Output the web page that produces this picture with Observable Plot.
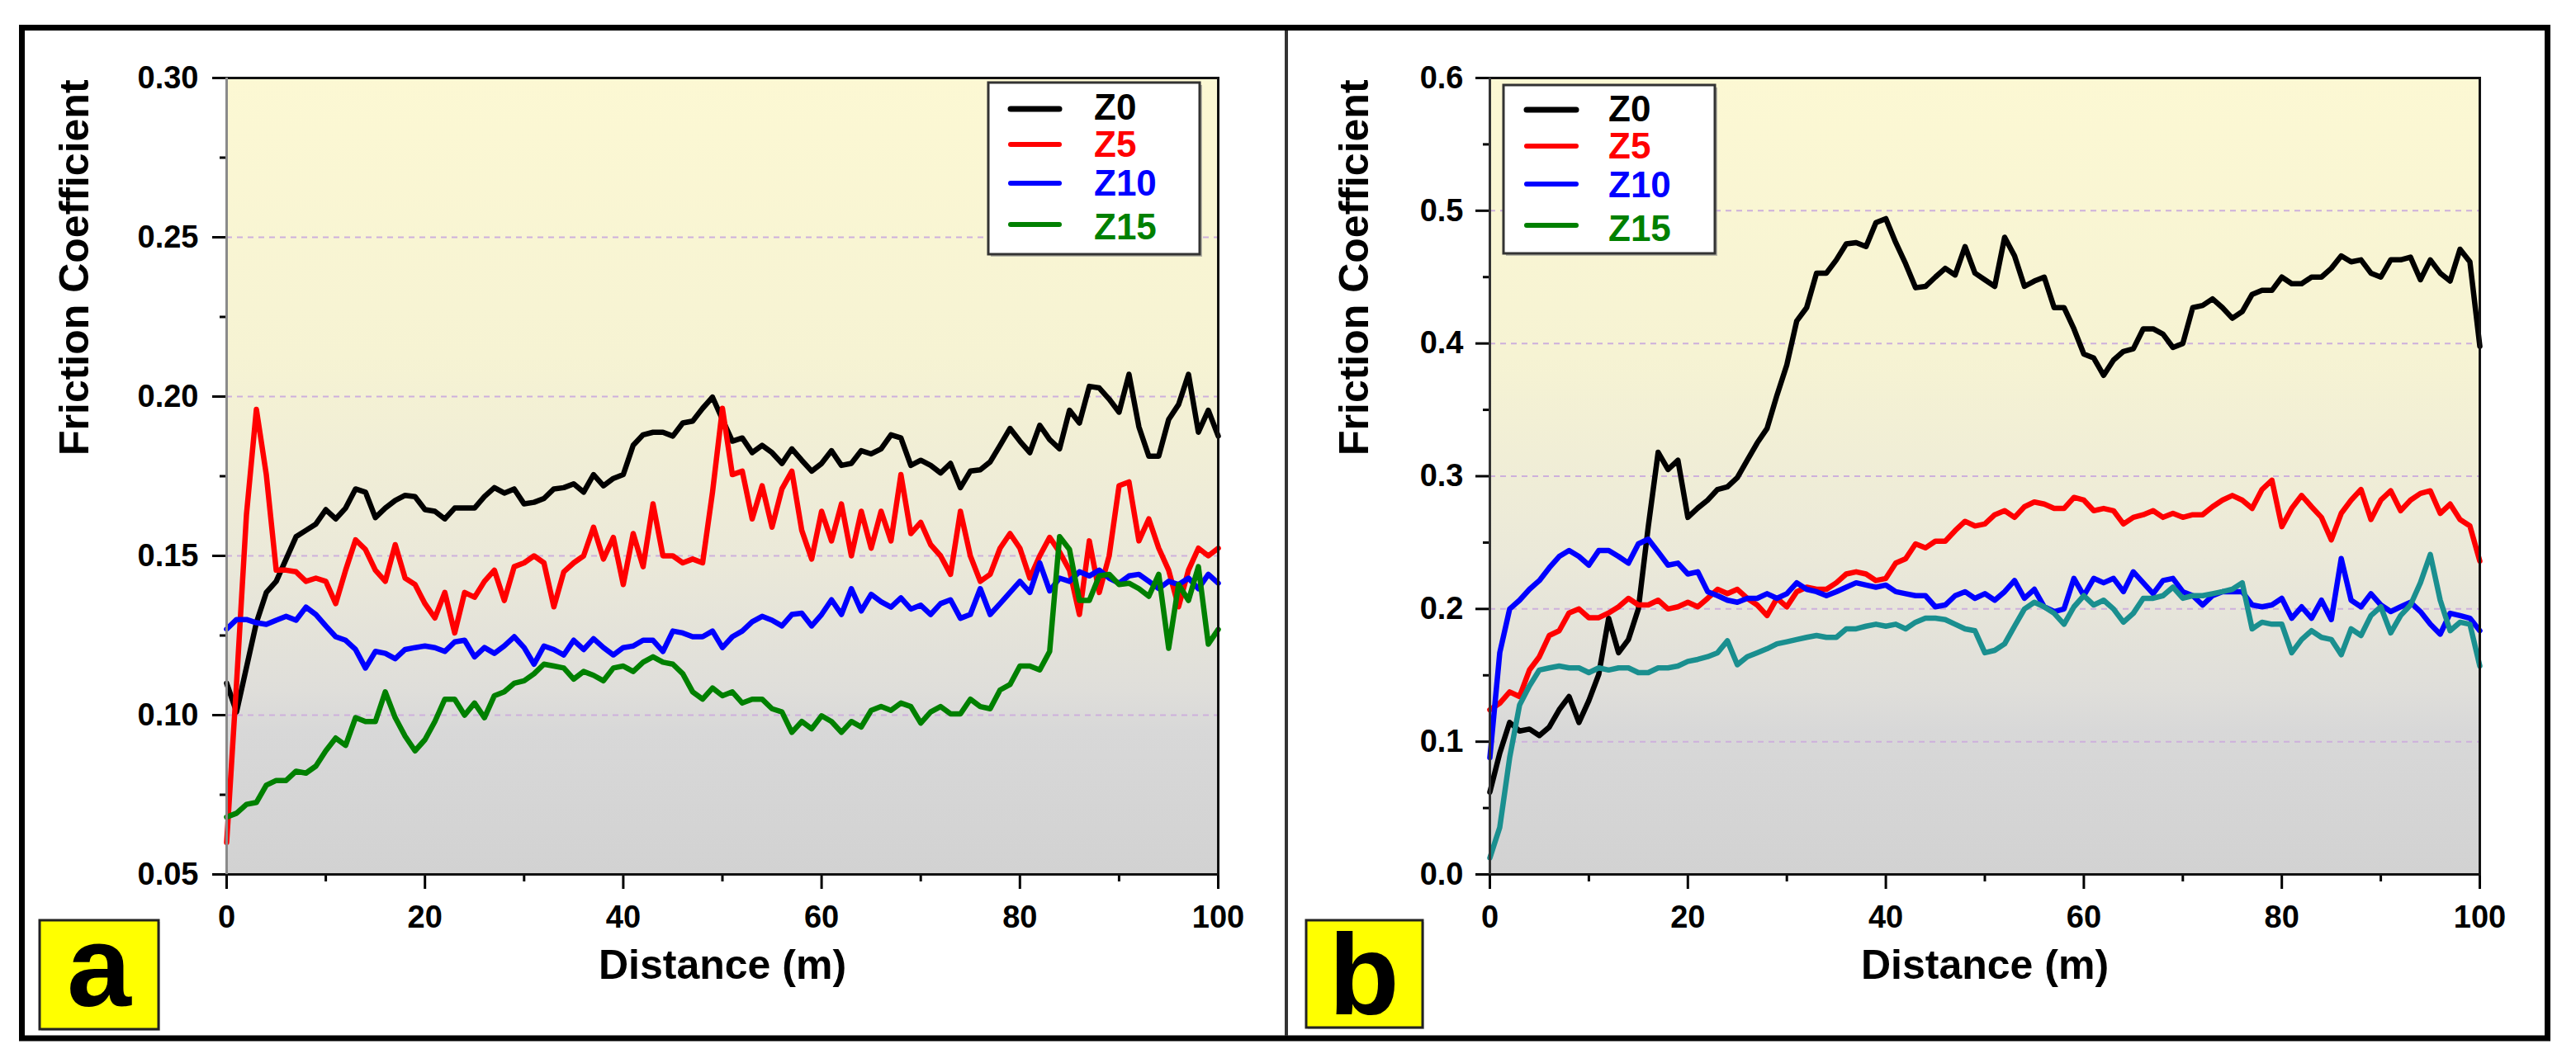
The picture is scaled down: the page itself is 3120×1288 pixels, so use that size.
<!DOCTYPE html>
<html>
<head>
<meta charset="utf-8">
<script src="https://cdn.jsdelivr.net/npm/d3@7"></script>
<script src="https://cdn.jsdelivr.net/npm/@observablehq/plot@0.6"></script>
<style>
  html, body { margin: 0; padding: 0; background: #fff; }
  #fig { position: relative; width: 3120px; height: 1288px; overflow: hidden; background: #fff; }
  .panel { position: absolute; top: 0; }
  #overlay { position: absolute; left: 0; top: 0; }
</style>
</head>
<body>
<div id="fig">
  <div id="pa" class="panel" style="left:0px"></div>
  <div id="pb" class="panel" style="left:1560px"></div>
</div>
<script>
// ---------------- DATA ----------------
const distance = d3.range(0, 101); // Distance (m), 1 m steps
const seriesNames = ["Z0", "Z5", "Z10", "Z15"];

// Panel a
const aZ0 = [0.110,0.101,0.115,0.129,0.1385,0.142,0.149,0.156,0.158,0.160,
  0.1645,0.1616,0.165,0.171,0.170,0.162,0.165,0.1674,0.169,0.1686,
  0.1645,0.164,0.1616,0.165,0.165,0.165,0.1686,0.1714,0.1697,0.171,
  0.1663,0.1668,0.168,0.171,0.1714,0.1726,0.170,0.1755,0.172,0.1743,
  0.1755,0.1847,0.188,0.1888,0.1888,0.1876,0.1917,0.1923,0.1963,0.1998,
  0.1928,0.186,0.187,0.1824,0.1847,0.1824,0.179,0.1836,0.180,0.1766,
  0.179,0.183,0.1784,0.179,0.183,0.182,0.1836,0.188,0.187,0.1784,
  0.180,0.1784,0.176,0.179,0.1714,0.1766,0.177,0.1795,0.1847,0.190,
  0.186,0.1824,0.191,0.1865,0.1836,0.1957,0.1917,0.2032,0.2027,0.1992,
  0.1951,0.207,0.1905,0.1813,0.1813,0.1928,0.1975,0.207,0.1888,0.1957,0.1876];
const aZ5 = [0.060,0.110,0.163,0.196,0.1755,0.1455,0.1455,0.145,0.142,0.143,
  0.142,0.135,0.1455,0.155,0.152,0.1455,0.142,0.1535,0.143,0.141,
  0.135,0.1305,0.1385,0.1258,0.1385,0.137,0.142,0.1455,0.136,0.1466,
  0.1478,0.150,0.1478,0.134,0.145,0.1478,0.150,0.159,0.149,0.1558,
  0.141,0.157,0.1466,0.1663,0.150,0.150,0.1478,0.149,0.1478,0.170,
  0.1963,0.1755,0.1766,0.1616,0.172,0.159,0.171,0.1766,0.158,0.149,
  0.164,0.1547,0.1663,0.150,0.164,0.1524,0.164,0.1547,0.1755,0.157,
  0.1605,0.1535,0.150,0.1442,0.164,0.150,0.142,0.1442,0.1524,0.157,
  0.1524,0.143,0.150,0.1558,0.1512,0.1455,0.1316,0.1547,0.1385,0.150,
  0.172,0.1732,0.1547,0.1616,0.1524,0.1455,0.134,0.1455,0.1524,0.150,0.1524];
const aZ10 = [0.127,0.130,0.130,0.129,0.1285,0.1298,0.131,0.1298,0.1339,0.1316,
  0.128,0.1246,0.1235,0.1206,0.1148,0.120,0.1194,0.1177,0.1206,0.1212,
  0.1217,0.1212,0.120,0.123,0.1235,0.1183,0.1212,0.1194,0.1217,0.1246,
  0.1212,0.116,0.1217,0.1206,0.1189,0.1235,0.1206,0.124,0.1212,0.1189,
  0.1212,0.1217,0.1235,0.1235,0.120,0.1264,0.1258,0.1246,0.1246,0.1264,
  0.1212,0.1246,0.1264,0.1293,0.131,0.1298,0.128,0.1316,0.132,0.128,
  0.1316,0.1362,0.1316,0.1397,0.1327,0.1379,0.1356,0.1339,0.1368,0.1333,
  0.1345,0.1316,0.135,0.1362,0.1304,0.1316,0.1397,0.1316,0.135,0.1385,
  0.142,0.1385,0.1478,0.139,0.143,0.142,0.145,0.1437,0.1455,0.143,
  0.1414,0.1437,0.1442,0.142,0.1397,0.142,0.141,0.143,0.1397,0.1442,0.1414];
const aZ15 = [0.068,0.0692,0.072,0.0726,0.078,0.0795,0.0795,0.0824,0.0818,0.084,
  0.0888,0.0928,0.0905,0.0992,0.098,0.098,0.1073,0.0992,0.0934,0.0888,
  0.0923,0.098,0.105,0.105,0.100,0.1038,0.0992,0.1061,0.1073,0.110,
  0.1108,0.113,0.116,0.1154,0.1148,0.1113,0.1137,0.1125,0.1108,0.1148,
  0.1154,0.1137,0.1166,0.1183,0.1166,0.116,0.113,0.1073,0.105,0.1085,
  0.1061,0.1073,0.1038,0.105,0.105,0.102,0.101,0.0946,0.098,0.0957,
  0.0998,0.098,0.0946,0.098,0.0963,0.1015,0.1027,0.1015,0.1038,0.1027,
  0.0975,0.101,0.1027,0.1004,0.1004,0.105,0.1027,0.102,0.1079,0.1096,
  0.1154,0.1154,0.1142,0.120,0.156,0.152,0.136,0.136,0.1437,0.1442,
  0.141,0.1414,0.1397,0.1373,0.1442,0.121,0.141,0.136,0.1466,0.1223,0.1269];

// Panel b
const bZ0 = [0.062,0.0914,0.1145,0.108,0.1095,0.1046,0.111,0.124,0.134,0.1145,
  0.131,0.1507,0.193,0.167,0.177,0.200,0.262,0.318,0.305,0.312,
  0.269,0.276,0.282,0.290,0.292,0.299,0.312,0.325,0.336,0.361,
  0.384,0.417,0.427,0.453,0.453,0.463,0.475,0.476,0.473,0.491,
  0.494,0.476,0.460,0.442,0.443,0.450,0.4566,0.4516,0.473,0.453,
  0.448,0.443,0.480,0.466,0.443,0.447,0.450,0.427,0.427,0.411,
  0.392,0.389,0.376,0.3875,0.394,0.396,0.411,0.411,0.407,0.397,
  0.400,0.427,0.4286,0.4336,0.427,0.419,0.424,0.437,0.440,0.440,
  0.450,0.445,0.445,0.450,0.450,0.4566,0.466,0.4615,0.463,0.453,
  0.450,0.463,0.463,0.465,0.448,0.463,0.453,0.447,0.471,0.4615,0.398];
const bZ5 = [0.124,0.129,0.1375,0.134,0.154,0.164,0.180,0.1836,0.197,0.200,
  0.1934,0.1934,0.197,0.2016,0.208,0.203,0.203,0.2066,0.200,0.2016,
  0.205,0.2016,0.208,0.2148,0.2115,0.2148,0.208,0.203,0.195,0.208,
  0.2016,0.213,0.2164,0.2148,0.2148,0.2197,0.2263,0.228,0.2263,0.2214,
  0.223,0.2345,0.2378,0.249,0.246,0.251,0.251,0.259,0.266,0.2625,
  0.264,0.271,0.274,0.269,0.277,0.2806,0.279,0.2757,0.2757,0.284,
  0.282,0.274,0.2757,0.274,0.264,0.269,0.271,0.274,0.269,0.272,
  0.269,0.271,0.271,0.277,0.282,0.2855,0.282,0.2757,0.290,0.297,
  0.262,0.2757,0.2855,0.277,0.269,0.252,0.272,0.282,0.290,0.2674,
  0.282,0.289,0.274,0.282,0.287,0.289,0.272,0.279,0.2674,0.2625,0.236];
const bZ10 = [0.088,0.167,0.200,0.2066,0.2148,0.2214,0.231,0.2395,0.244,0.2395,
  0.233,0.244,0.244,0.2395,0.2345,0.249,0.2526,0.243,0.233,0.2345,
  0.2263,0.228,0.213,0.210,0.2066,0.205,0.208,0.208,0.2115,0.208,
  0.2115,0.2197,0.2148,0.213,0.210,0.213,0.2164,0.2197,0.218,0.2164,
  0.218,0.213,0.2115,0.210,0.210,0.2016,0.203,0.210,0.213,0.208,
  0.2115,0.2066,0.213,0.2214,0.208,0.2148,0.2016,0.198,0.200,0.223,
  0.210,0.223,0.2197,0.223,0.213,0.228,0.2197,0.2115,0.2214,0.223,
  0.213,0.210,0.203,0.210,0.213,0.213,0.213,0.203,0.2016,0.203,
  0.208,0.193,0.2016,0.193,0.2066,0.192,0.238,0.2066,0.2016,0.2115,
  0.203,0.198,0.2016,0.205,0.198,0.1885,0.181,0.1967,0.195,0.193,0.1836];
const bZ15 = [0.0125,0.0355,0.088,0.1276,0.142,0.154,0.1556,0.157,0.1556,0.1556,
  0.152,0.1556,0.154,0.1556,0.1556,0.152,0.152,0.1556,0.1556,0.157,
  0.1605,0.162,0.164,0.167,0.176,0.158,0.164,0.167,0.170,0.1737,
  0.1753,0.177,0.1786,0.180,0.1786,0.1786,0.185,0.185,0.187,0.1885,
  0.187,0.1885,0.185,0.190,0.193,0.193,0.192,0.1885,0.185,0.1836,
  0.167,0.1688,0.1737,0.187,0.200,0.205,0.2016,0.1967,0.1885,0.2016,
  0.210,0.203,0.2066,0.200,0.190,0.1967,0.208,0.208,0.210,0.2164,
  0.208,0.210,0.210,0.2115,0.213,0.2148,0.2197,0.185,0.190,0.1885,
  0.1885,0.167,0.177,0.1836,0.1786,0.177,0.1655,0.185,0.180,0.195,
  0.2016,0.182,0.195,0.203,0.2197,0.241,0.2066,0.1836,0.190,0.1885,0.157];

// Ticks
const xMajor = [0, 20, 40, 60, 80, 100];
const xMinor = [10, 30, 50, 70, 90];
const aYMajor = [0.05, 0.10, 0.15, 0.20, 0.25, 0.30];
const aYMinor = [0.075, 0.125, 0.175, 0.225, 0.275];
const aGrid = [0.10, 0.15, 0.20, 0.25];
const bYMajor = [0.0, 0.1, 0.2, 0.3, 0.4, 0.5, 0.6];
const bYMinor = [0.05, 0.15, 0.25, 0.35, 0.45, 0.55];
const bGrid = [0.1, 0.2, 0.3, 0.4, 0.5];

const lineColorsA = ["#000000", "#ff0000", "#0000ff", "#008000"];
const lineColorsB = ["#000000", "#ff0000", "#0000ff", "#1a8f8f"];
const legendColors = ["#000000", "#ff0000", "#0000ff", "#008000"];

// ---------------- DRAW ----------------
const FONT = "'Liberation Sans', Arial, Helvetica, sans-serif";

function makePanel({values, colors, yDomain, yMajor, yMinor, grid, fmt, width, marginLeft, marginRight, gradId, yTitleDx, tickPad, leftSpine}) {
  const marks = [
    Plot.frame({fill: `url(#${gradId})`}),
    Plot.gridY(grid, {stroke: "#cdb0dc", strokeOpacity: 1, strokeWidth: 2, strokeDasharray: "7,6"}),
    Plot.axisY(yMinor, {anchor: "left", tickSize: 8, strokeWidth: 3, tickFormat: () => "", label: null}),
    Plot.axisY(yMajor, {anchor: "left", tickSize: 17, strokeWidth: 3, tickPadding: tickPad, tickFormat: fmt, label: null, fontSize: 38, fontWeight: "bold"}),
    Plot.axisX(xMinor, {anchor: "bottom", tickSize: 9, strokeWidth: 3, tickFormat: () => "", label: null}),
    Plot.axisX(xMajor, {anchor: "bottom", tickSize: 18, strokeWidth: 3, tickPadding: 20, tickFormat: d3.format("d"), label: null, fontSize: 38, fontWeight: "bold"})
  ];
  values.forEach((vals, k) => {
    const rows = distance.map((d, i) => ({x: d, y: vals[i], s: seriesNames[k]}));
    marks.push(Plot.line(rows, {x: "x", y: "y", stroke: colors[k], strokeWidth: 6.5, strokeLinejoin: "round", strokeLinecap: "round", curve: "linear"}));
  });
  marks.push(Plot.frame({stroke: "#111", strokeWidth: 3}));
  marks.push(Plot.ruleX([yDomain[0] === 0 ? 0 : 0], {x: () => 0, y1: yDomain[0], y2: yDomain[1], stroke: leftSpine, strokeWidth: 3}));
  marks.push(Plot.text(["Friction Coefficient"], {frameAnchor: "left", dx: yTitleDx, dy: -25, rotate: -90, fontSize: 50, fontWeight: "bold", fill: "#000"}));
  marks.push(Plot.text(["Distance (m)"], {frameAnchor: "bottom", dy: 126, fontSize: 50, fontWeight: "bold", fill: "#000"}));

  const svg = Plot.plot({
    width, height: 1288,
    marginLeft, marginRight, marginTop: 94, marginBottom: 229,
    x: {domain: [0, 100], label: null},
    y: {domain: yDomain, label: null},
    style: {fontFamily: FONT, fontWeight: "bold", fontSize: "38px", color: "#000", background: "transparent", overflow: "visible"},
    marks
  });
  const ns = "http://www.w3.org/2000/svg";
  const defs = document.createElementNS(ns, "defs");
  defs.innerHTML = `<linearGradient id="${gradId}" x1="0" y1="0" x2="0" y2="1">
      <stop offset="0" stop-color="#fcf8d3"/>
      <stop offset="0.35" stop-color="#f6f3d3"/>
      <stop offset="0.6" stop-color="#ebe9d9"/>
      <stop offset="0.77" stop-color="#dfdeda"/>
      <stop offset="0.82" stop-color="#d8d8d8"/>
      <stop offset="1" stop-color="#d2d2d2"/>
    </linearGradient>`;
  svg.insertBefore(defs, svg.firstChild);
  return svg;
}

document.getElementById("pa").appendChild(makePanel({
  values: [aZ0, aZ5, aZ10, aZ15], colors: lineColorsA,
  yDomain: [0.05, 0.30], yMajor: aYMajor, yMinor: aYMinor, grid: aGrid, fmt: d3.format(".2f"),
  width: 1556, marginLeft: 274, marginRight: 81, gradId: "gradA", yTitleDx: -184, tickPad: 17, leftSpine: "#8a8a8a"
}));
document.getElementById("pb").appendChild(makePanel({
  values: [bZ0, bZ5, bZ10, bZ15], colors: lineColorsB,
  yDomain: [0.0, 0.6], yMajor: bYMajor, yMinor: bYMinor, grid: bGrid, fmt: d3.format(".1f"),
  width: 1560, marginLeft: 244, marginRight: 117, gradId: "gradB", yTitleDx: -164, tickPad: 15, leftSpine: "#333"
}));

// Overlay: outer frame, divider, panel labels, legends
const ns = "http://www.w3.org/2000/svg";
const ov = document.createElementNS(ns, "svg");
ov.setAttribute("id", "overlay");
ov.setAttribute("width", 3120);
ov.setAttribute("height", 1288);
ov.style.fontFamily = FONT;
function el(tag, attrs, text) {
  const e = document.createElementNS(ns, tag);
  for (const k in attrs) e.setAttribute(k, attrs[k]);
  if (text != null) e.textContent = text;
  ov.appendChild(e);
  return e;
}
el("rect", {x: 26.5, y: 33.5, width: 3059, height: 1224.5, fill: "none", stroke: "#000", "stroke-width": 7});
el("line", {x1: 1558, y1: 37, x2: 1558, y2: 1255, stroke: "#333", "stroke-width": 4});

function labelBox(x, y, w, h, letter, tx, ty) {
  el("rect", {x: x + 2, y: y + 2, width: w, height: h, fill: "#9a9a9a", opacity: 0.5});
  el("rect", {x, y, width: w, height: h, fill: "#ffff00", stroke: "#222", "stroke-width": 3});
  el("text", {x: tx, y: ty, "text-anchor": "middle", "font-size": 140, "font-weight": "bold", fill: "#000"}, letter);
}
labelBox(48, 1115, 144, 132, "a", 120, 1219);
labelBox(1582, 1115, 141, 130, "b", 1652, 1229);

function legend(bx, by, bw, bh, lx1, lx2, tx, lineYs, baseYs) {
  el("rect", {x: bx + 3, y: by + 3, width: bw, height: bh, fill: "#8a8a8a", opacity: 0.6});
  el("rect", {x: bx, y: by, width: bw, height: bh, fill: "#fff", stroke: "#333", "stroke-width": 3});
  seriesNames.forEach((name, i) => {
    el("line", {x1: lx1, y1: lineYs[i], x2: lx2, y2: lineYs[i], stroke: legendColors[i], "stroke-width": i === 0 ? 7 : 6, "stroke-linecap": "round"});
    el("text", {x: tx, y: baseYs[i], "font-size": 44, "font-weight": "bold", fill: legendColors[i]}, name);
  });
}
legend(1197, 100, 256, 208, 1224, 1283, 1325, [132, 175, 222, 272], [145, 190, 237, 290]);
legend(1821, 103, 256, 204, 1849, 1909, 1948, [133, 177, 223, 273], [147, 192, 239, 292]);

document.getElementById("fig").appendChild(ov);
</script>
</body>
</html>
